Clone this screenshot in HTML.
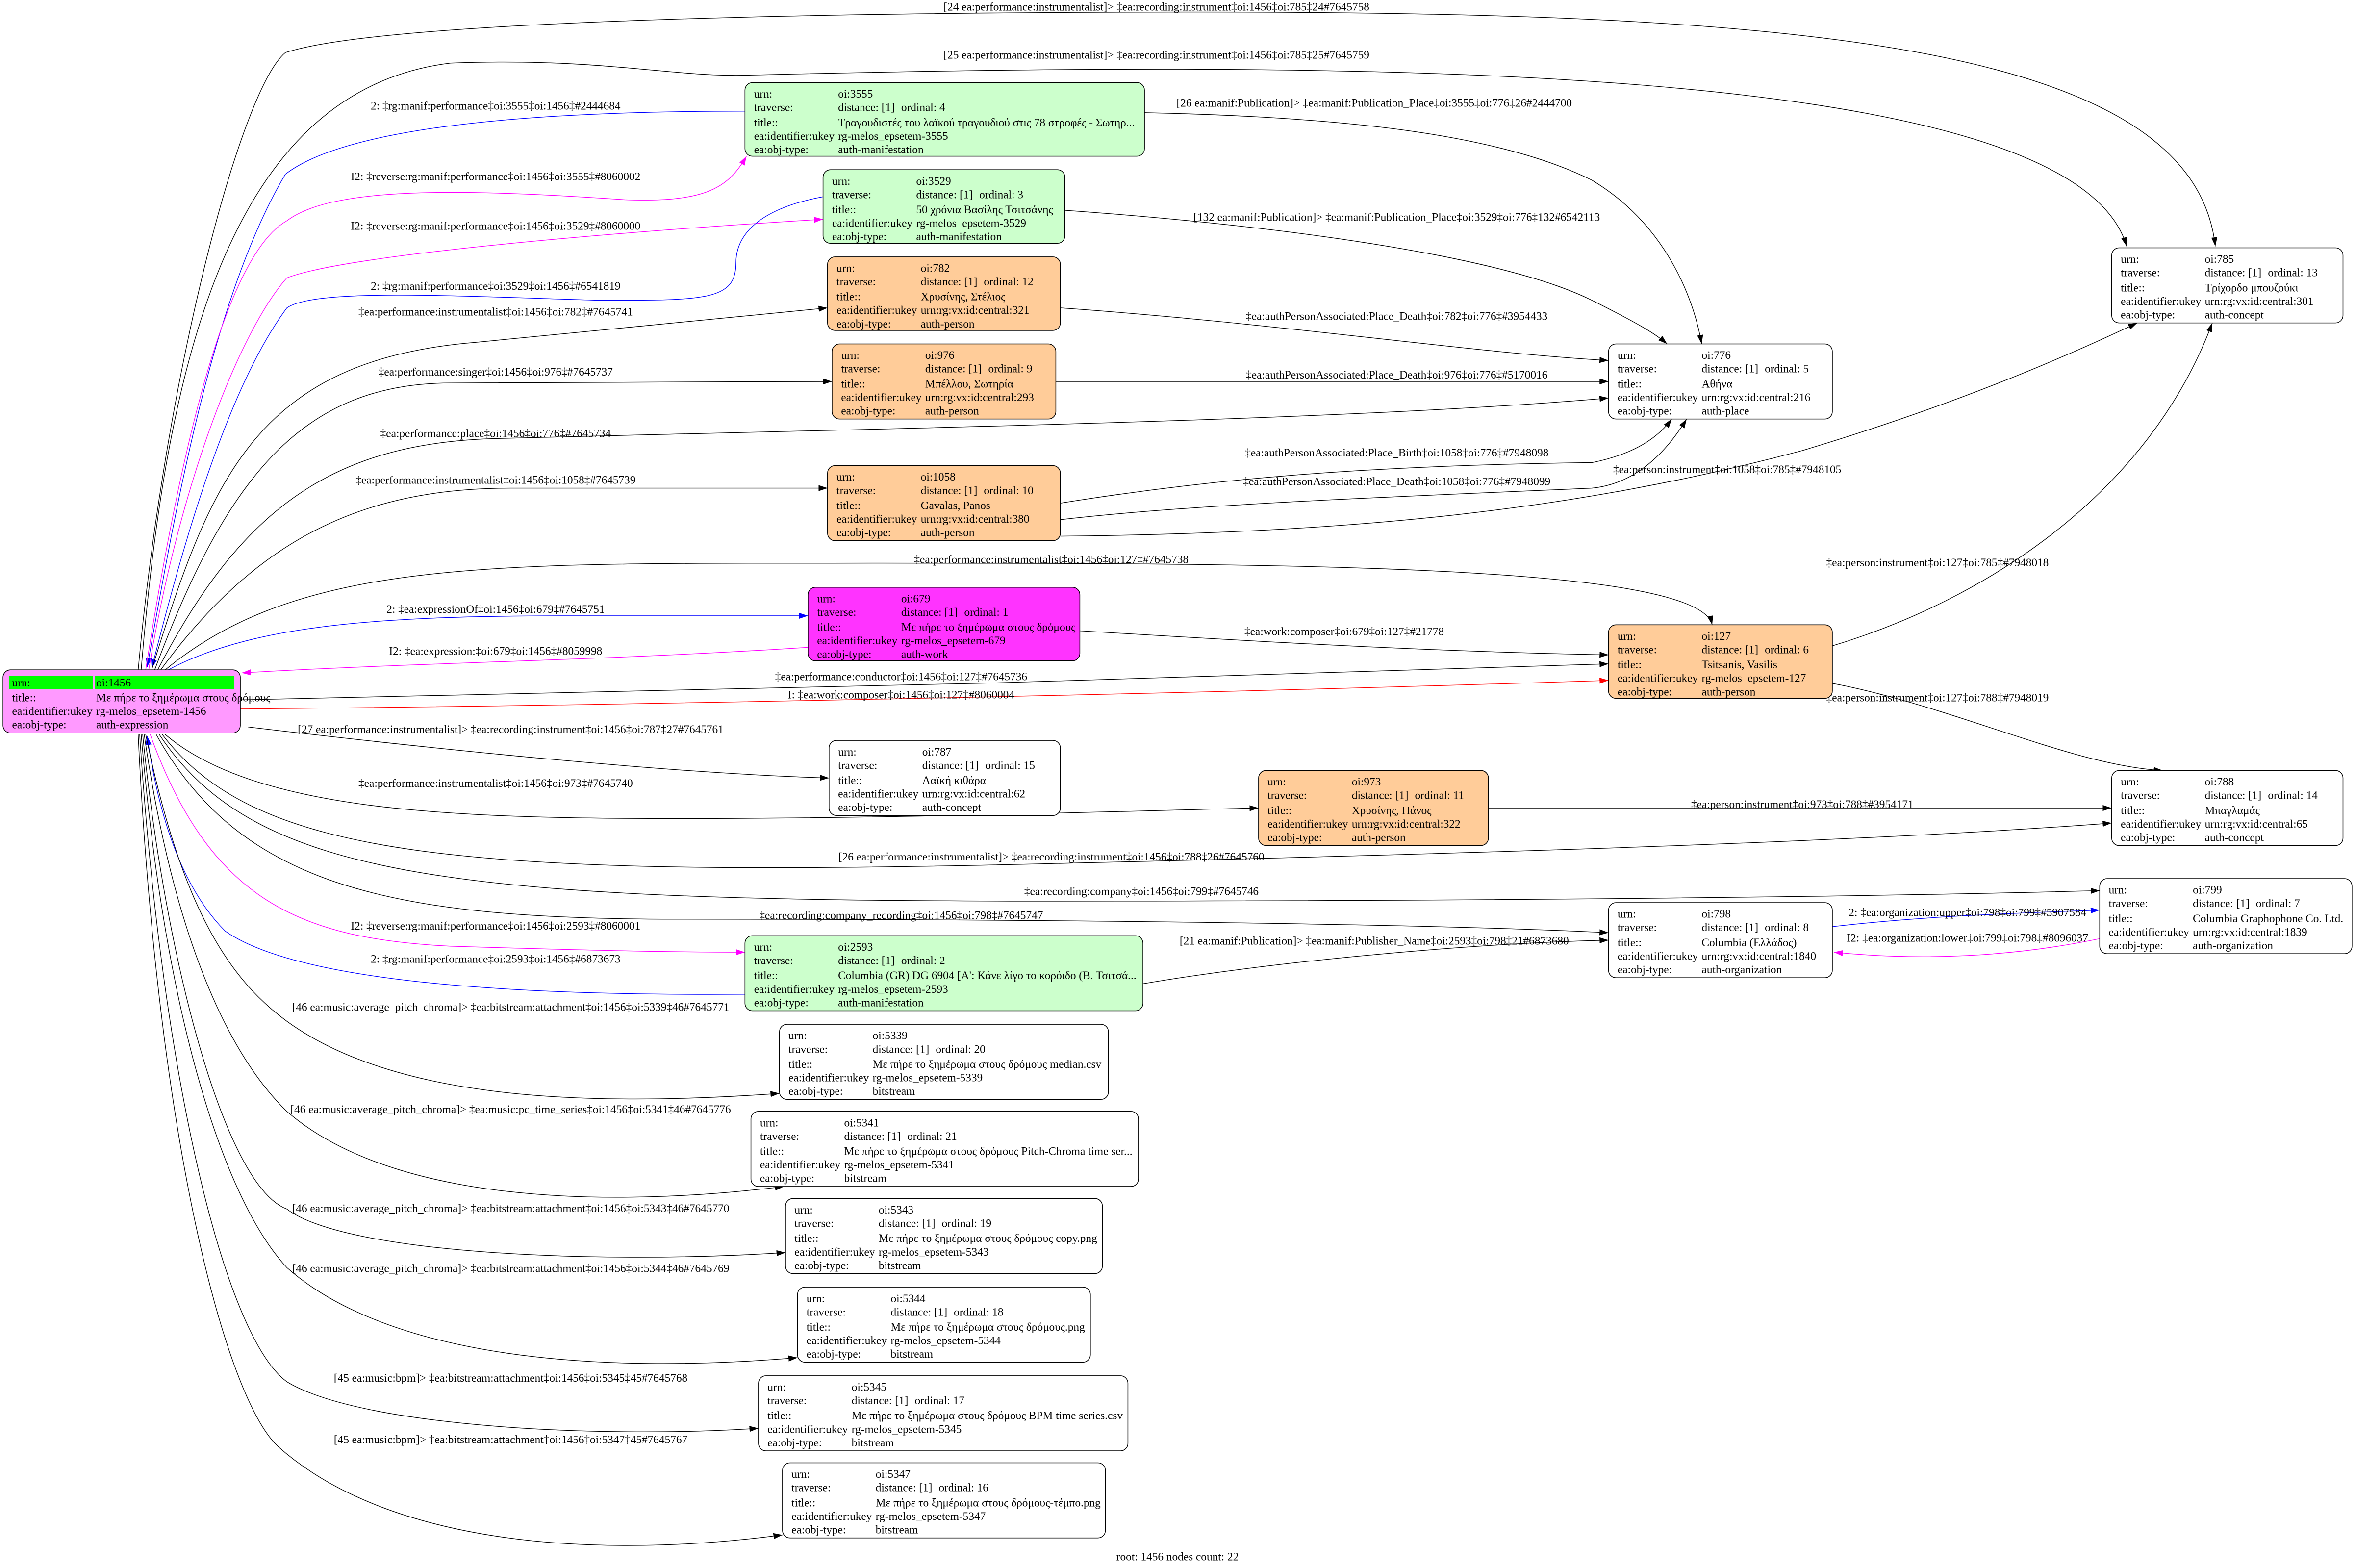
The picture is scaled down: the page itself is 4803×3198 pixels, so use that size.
<!DOCTYPE html>
<html><head><meta charset="utf-8"><style>
html,body{margin:0;padding:0;background:#fff;}
svg{display:block;}
text{font-family:"Liberation Serif","Noto Serif CJK SC",serif;font-size:7.6px;fill:#000;}
.e{fill:none;stroke:#000;stroke-width:0.45;}
.b{stroke:#0000ff;} .m{stroke:#ff00ff;} .r{stroke:#ff0000;}
.l{text-anchor:middle;}
rect{stroke-width:0.5;}
</style></head><body>
<svg width="4803" height="3198" viewBox="0 0 1568 1044" xmlns="http://www.w3.org/2000/svg">
<defs>
<marker id="ak" markerWidth="6" markerHeight="4" refX="6" refY="2" orient="auto" markerUnits="userSpaceOnUse"><path d="M0,0L6,2L0,4z" fill="#000"/></marker>
<marker id="ab" markerWidth="6" markerHeight="4" refX="6" refY="2" orient="auto" markerUnits="userSpaceOnUse"><path d="M0,0L6,2L0,4z" fill="#00f"/></marker>
<marker id="am" markerWidth="6" markerHeight="4" refX="6" refY="2" orient="auto" markerUnits="userSpaceOnUse"><path d="M0,0L6,2L0,4z" fill="#f0f"/></marker>
<marker id="ar" markerWidth="6" markerHeight="4" refX="6" refY="2" orient="auto" markerUnits="userSpaceOnUse"><path d="M0,0L6,2L0,4z" fill="#f00"/></marker>
</defs>
<rect width="1568" height="1044" fill="#fff" stroke="none"/>

<!-- edges from root top -->
<path class="e" marker-end="url(#ak)" d="M92,446 C110,250 160,60 190,35 C260,12 600,8 800,8 C1200,8 1460,30 1475,164"/>
<path class="e" marker-end="url(#ak)" d="M94,446 C110,250 150,60 300,42 C400,38 450,52 500,50 C900,40 1380,40 1416,164"/>
<path class="e b" marker-end="url(#ab)" d="M496,74 C350,74 230,85 190,116 C140,200 115,350 98,444"/>
<path class="e m" marker-end="url(#am)" d="M97,446 C120,300 150,170 191,147 C220,125 300,125 416,133 C470,135 485,125 497,104"/>
<path class="e m" marker-end="url(#am)" d="M99,446 C120,320 160,220 191,185 C230,170 400,155 548,146"/>
<path class="e b" marker-end="url(#ab)" d="M548,131 C500,140 490,160 490,175 C490,200 470,200 400,200 C300,197 210,192 191,205 C150,260 120,370 101,445"/>
<path class="e" marker-end="url(#ak)" d="M101,446 C140,320 170,240 316,228 C400,220 480,212 551,205"/>
<path class="e" marker-end="url(#ak)" d="M103,446 C150,320 200,255 300,255 C420,255 480,254 554,254"/>
<path class="e" marker-end="url(#ak)" d="M105,446 C160,340 220,295 330,292 C600,285 900,280 1071,265"/>
<path class="e" marker-end="url(#ak)" d="M107,446 C170,360 240,325 340,325 C450,325 500,325 551,325"/>
<path class="e" marker-end="url(#ak)" d="M110,446 C190,380 300,375 500,375 C800,375 1130,372 1140,416"/>
<path class="e b" marker-end="url(#ab)" d="M112,446 C170,415 260,410 380,410 C460,410 500,410 538,410"/>
<path class="e m" marker-end="url(#am)" d="M538,431 C400,440 280,441 161,448"/>
<path class="e" marker-end="url(#ak)" d="M160,466 C400,462 800,452 1071,442"/>
<path class="e r" marker-end="url(#ar)" d="M160,472 C400,470 800,462 1071,453"/>
<!-- edges from root bottom -->
<path class="e" marker-end="url(#ak)" d="M165,484 C300,500 450,515 552,518"/>
<path class="e" marker-end="url(#ak)" d="M110,489 C170,540 300,545 450,545 C600,545 750,540 838,538"/>
<path class="e" marker-end="url(#ak)" d="M108,489 C170,570 300,585 700,575 C1000,568 1250,560 1406,548"/>
<path class="e" marker-end="url(#ak)" d="M106,489 C170,585 300,600 700,600 C1000,600 1250,597 1398,593"/>
<path class="e" marker-end="url(#ak)" d="M104,489 C160,590 260,612 450,612 C700,612 950,615 1071,621"/>
<path class="e m" marker-end="url(#am)" d="M100,489 C140,600 200,625 300,630 C400,633 450,634 496,634"/>
<path class="e b" marker-end="url(#ab)" d="M496,662 C350,663 200,655 150,620 C120,590 105,540 98,490"/>
<path class="e" marker-end="url(#ak)" d="M97,489 C120,600 150,650 191,680 C260,730 380,738 519,728"/>
<path class="e" marker-end="url(#ak)" d="M96,489 C115,620 150,700 191,740 C260,800 400,805 522,790"/>
<path class="e" marker-end="url(#ak)" d="M95,489 C110,640 150,790 191,805 C230,835 400,842 523,834"/>
<path class="e" marker-end="url(#ak)" d="M94,489 C110,680 150,800 191,844 C260,905 400,915 531,904"/>
<path class="e" marker-end="url(#ak)" d="M93,489 C108,720 150,890 191,920 C240,950 400,958 505,951"/>
<path class="e" marker-end="url(#ak)" d="M92,489 C105,760 150,930 185,963 C260,1030 400,1038 521,1022"/>
<!-- other edges -->
<path class="e" marker-end="url(#ak)" d="M762,75 C900,78 1000,90 1060,120 C1110,150 1128,200 1133,229"/>
<path class="e" marker-end="url(#ak)" d="M709,140 C850,150 1000,170 1060,200 C1090,215 1102,222 1110,229"/>
<path class="e" marker-end="url(#ak)" d="M706,205 C850,215 980,235 1071,240"/>
<path class="e" marker-end="url(#ak)" d="M703,254 C850,254 980,254 1071,254"/>
<path class="e" marker-end="url(#ak)" d="M706,335 C800,320 900,310 1060,308 C1090,302 1105,290 1113,279"/>
<path class="e" marker-end="url(#ak)" d="M706,346 C800,335 950,330 1060,325 C1090,322 1110,300 1123,279"/>
<path class="e" marker-end="url(#ak)" d="M706,357 C900,355 1050,340 1200,300 C1300,270 1370,240 1423,215"/>
<path class="e" marker-end="url(#ak)" d="M719,420 C850,428 960,434 1071,436"/>
<path class="e" marker-end="url(#ak)" d="M1220,430 C1320,400 1430,330 1473,215"/>
<path class="e" marker-end="url(#ak)" d="M1220,455 C1300,470 1380,510 1440,513"/>
<path class="e" marker-end="url(#ak)" d="M991,538 C1150,538 1300,538 1406,538"/>
<path class="e" marker-end="url(#ak)" d="M761,655 C850,640 980,628 1071,626"/>
<path class="e b" marker-end="url(#ab)" d="M1220,617 C1280,610 1340,608 1398,606"/>
<path class="e m" marker-end="url(#am)" d="M1398,625 C1340,637 1280,640 1221,634"/>

<!-- edge labels -->
<g>
<text class="l" x="770" y="7">[24 ea:performance:instrumentalist]&gt; ‡ea:recording:instrument‡oi:1456‡oi:785‡24#7645758</text>
<text class="l" x="770" y="39">[25 ea:performance:instrumentalist]&gt; ‡ea:recording:instrument‡oi:1456‡oi:785‡25#7645759</text>
<text class="l" x="330" y="73">2: ‡rg:manif:performance‡oi:3555‡oi:1456‡#2444684</text>
<text class="l" x="330" y="120">I2: ‡reverse:rg:manif:performance‡oi:1456‡oi:3555‡#8060002</text>
<text class="l" x="330" y="153">I2: ‡reverse:rg:manif:performance‡oi:1456‡oi:3529‡#8060000</text>
<text class="l" x="330" y="193">2: ‡rg:manif:performance‡oi:3529‡oi:1456‡#6541819</text>
<text class="l" x="330" y="210">‡ea:performance:instrumentalist‡oi:1456‡oi:782‡#7645741</text>
<text class="l" x="330" y="250">‡ea:performance:singer‡oi:1456‡oi:976‡#7645737</text>
<text class="l" x="330" y="291">‡ea:performance:place‡oi:1456‡oi:776‡#7645734</text>
<text class="l" x="330" y="322">‡ea:performance:instrumentalist‡oi:1456‡oi:1058‡#7645739</text>
<text class="l" x="700" y="375">‡ea:performance:instrumentalist‡oi:1456‡oi:127‡#7645738</text>
<text class="l" x="330" y="408">2: ‡ea:expressionOf‡oi:1456‡oi:679‡#7645751</text>
<text class="l" x="330" y="436">I2: ‡ea:expression:‡oi:679‡oi:1456‡#8059998</text>
<text class="l" x="600" y="453">‡ea:performance:conductor‡oi:1456‡oi:127‡#7645736</text>
<text class="l" x="600" y="465">I: ‡ea:work:composer‡oi:1456‡oi:127‡#8060004</text>
<text class="l" x="340" y="488">[27 ea:performance:instrumentalist]&gt; ‡ea:recording:instrument‡oi:1456‡oi:787‡27#7645761</text>
<text class="l" x="330" y="524">‡ea:performance:instrumentalist‡oi:1456‡oi:973‡#7645740</text>
<text class="l" x="700" y="573">[26 ea:performance:instrumentalist]&gt; ‡ea:recording:instrument‡oi:1456‡oi:788‡26#7645760</text>
<text class="l" x="760" y="596">‡ea:recording:company‡oi:1456‡oi:799‡#7645746</text>
<text class="l" x="600" y="612">‡ea:recording:company_recording‡oi:1456‡oi:798‡#7645747</text>
<text class="l" x="330" y="619">I2: ‡reverse:rg:manif:performance‡oi:1456‡oi:2593‡#8060001</text>
<text class="l" x="330" y="641">2: ‡rg:manif:performance‡oi:2593‡oi:1456‡#6873673</text>
<text class="l" x="340" y="673">[46 ea:music:average_pitch_chroma]&gt; ‡ea:bitstream:attachment‡oi:1456‡oi:5339‡46#7645771</text>
<text class="l" x="340" y="741">[46 ea:music:average_pitch_chroma]&gt; ‡ea:music:pc_time_series‡oi:1456‡oi:5341‡46#7645776</text>
<text class="l" x="340" y="807">[46 ea:music:average_pitch_chroma]&gt; ‡ea:bitstream:attachment‡oi:1456‡oi:5343‡46#7645770</text>
<text class="l" x="340" y="847">[46 ea:music:average_pitch_chroma]&gt; ‡ea:bitstream:attachment‡oi:1456‡oi:5344‡46#7645769</text>
<text class="l" x="340" y="920">[45 ea:music:bpm]&gt; ‡ea:bitstream:attachment‡oi:1456‡oi:5345‡45#7645768</text>
<text class="l" x="340" y="961">[45 ea:music:bpm]&gt; ‡ea:bitstream:attachment‡oi:1456‡oi:5347‡45#7645767</text>
<text class="l" x="915" y="71">[26 ea:manif:Publication]&gt; ‡ea:manif:Publication_Place‡oi:3555‡oi:776‡26#2444700</text>
<text class="l" x="930" y="147">[132 ea:manif:Publication]&gt; ‡ea:manif:Publication_Place‡oi:3529‡oi:776‡132#6542113</text>
<text class="l" x="930" y="213">‡ea:authPersonAssociated:Place_Death‡oi:782‡oi:776‡#3954433</text>
<text class="l" x="930" y="252">‡ea:authPersonAssociated:Place_Death‡oi:976‡oi:776‡#5170016</text>
<text class="l" x="930" y="304">‡ea:authPersonAssociated:Place_Birth‡oi:1058‡oi:776‡#7948098</text>
<text class="l" x="930" y="323">‡ea:authPersonAssociated:Place_Death‡oi:1058‡oi:776‡#7948099</text>
<text class="l" x="1150" y="315">‡ea:person:instrument‡oi:1058‡oi:785‡#7948105</text>
<text class="l" x="895" y="423">‡ea:work:composer‡oi:679‡oi:127‡#21778</text>
<text class="l" x="1290" y="377">‡ea:person:instrument‡oi:127‡oi:785‡#7948018</text>
<text class="l" x="1290" y="467">‡ea:person:instrument‡oi:127‡oi:788‡#7948019</text>
<text class="l" x="1200" y="538">‡ea:person:instrument‡oi:973‡oi:788‡#3954171</text>
<text class="l" x="915" y="629">[21 ea:manif:Publication]&gt; ‡ea:manif:Publisher_Name‡oi:2593‡oi:798‡21#6873680</text>
<text class="l" x="1310" y="610">2: ‡ea:organization:upper‡oi:798‡oi:799‡#5907584</text>
<text class="l" x="1310" y="627">I2: ‡ea:organization:lower‡oi:799‡oi:798‡#8096037</text>
</g>

<!-- nodes -->
<g>
<rect x="2" y="446" width="158" height="42" rx="5" fill="#ff99ff" stroke="#000"/>
<rect x="6" y="450" width="56" height="9" fill="#00ff00"/><rect x="63" y="450" width="93" height="9" fill="#00ff00"/>
<text x="8" y="457">urn:</text><text x="64" y="457">oi:1456</text>
<text x="8" y="467">title::</text><text x="64" y="467">Με πήρε το ξημέρωμα στους δρόμους</text>
<text x="8" y="476">ea:identifier:ukey</text><text x="64" y="476">rg-melos_epsetem-1456</text>
<text x="8" y="485">ea:obj-type:</text><text x="64" y="485">auth-expression</text>
</g>

<g><rect x="496" y="55" width="266" height="49" rx="5" fill="#ccffcc" stroke="#000"/>
<text x="502" y="65">urn:</text><text x="558" y="65">oi:3555</text>
<text x="502" y="74">traverse:</text><text x="558" y="74">distance: [1]</text><text x="600" y="74">ordinal: 4</text>
<text x="502" y="84">title::</text><text x="558" y="84">Τραγουδιστές του λαϊκού τραγουδιού στις 78 στροφές - Σωτηρ...</text>
<text x="502" y="93">ea:identifier:ukey</text><text x="558" y="93">rg-melos_epsetem-3555</text>
<text x="502" y="102">ea:obj-type:</text><text x="558" y="102">auth-manifestation</text></g>

<g><rect x="548" y="113" width="161" height="49" rx="5" fill="#ccffcc" stroke="#000"/>
<text x="554" y="123">urn:</text><text x="610" y="123">oi:3529</text>
<text x="554" y="132">traverse:</text><text x="610" y="132">distance: [1]</text><text x="652" y="132">ordinal: 3</text>
<text x="554" y="142">title::</text><text x="610" y="142">50 χρόνια Βασίλης Τσιτσάνης</text>
<text x="554" y="151">ea:identifier:ukey</text><text x="610" y="151">rg-melos_epsetem-3529</text>
<text x="554" y="160">ea:obj-type:</text><text x="610" y="160">auth-manifestation</text></g>

<g><rect x="551" y="171" width="155" height="49" rx="5" fill="#ffcc99" stroke="#000"/>
<text x="557" y="181">urn:</text><text x="613" y="181">oi:782</text>
<text x="557" y="190">traverse:</text><text x="613" y="190">distance: [1]</text><text x="655" y="190">ordinal: 12</text>
<text x="557" y="200">title::</text><text x="613" y="200">Χρυσίνης, Στέλιος</text>
<text x="557" y="209">ea:identifier:ukey</text><text x="613" y="209">urn:rg:vx:id:central:321</text>
<text x="557" y="218">ea:obj-type:</text><text x="613" y="218">auth-person</text></g>

<g><rect x="554" y="229" width="149" height="50" rx="5" fill="#ffcc99" stroke="#000"/>
<text x="560" y="239">urn:</text><text x="616" y="239">oi:976</text>
<text x="560" y="248">traverse:</text><text x="616" y="248">distance: [1]</text><text x="658" y="248">ordinal: 9</text>
<text x="560" y="258">title::</text><text x="616" y="258">Μπέλλου, Σωτηρία</text>
<text x="560" y="267">ea:identifier:ukey</text><text x="616" y="267">urn:rg:vx:id:central:293</text>
<text x="560" y="276">ea:obj-type:</text><text x="616" y="276">auth-person</text></g>

<g><rect x="551" y="310" width="155" height="50" rx="5" fill="#ffcc99" stroke="#000"/>
<text x="557" y="320">urn:</text><text x="613" y="320">oi:1058</text>
<text x="557" y="329">traverse:</text><text x="613" y="329">distance: [1]</text><text x="655" y="329">ordinal: 10</text>
<text x="557" y="339">title::</text><text x="613" y="339">Gavalas, Panos</text>
<text x="557" y="348">ea:identifier:ukey</text><text x="613" y="348">urn:rg:vx:id:central:380</text>
<text x="557" y="357">ea:obj-type:</text><text x="613" y="357">auth-person</text></g>

<g><rect x="538" y="391" width="181" height="49" rx="5" fill="#ff33ff" stroke="#000"/>
<text x="544" y="401">urn:</text><text x="600" y="401">oi:679</text>
<text x="544" y="410">traverse:</text><text x="600" y="410">distance: [1]</text><text x="642" y="410">ordinal: 1</text>
<text x="544" y="420">title::</text><text x="600" y="420">Με πήρε το ξημέρωμα στους δρόμους</text>
<text x="544" y="429">ea:identifier:ukey</text><text x="600" y="429">rg-melos_epsetem-679</text>
<text x="544" y="438">ea:obj-type:</text><text x="600" y="438">auth-work</text></g>

<g><rect x="1071" y="416" width="149" height="49" rx="5" fill="#ffcc99" stroke="#000"/>
<text x="1077" y="426">urn:</text><text x="1133" y="426">oi:127</text>
<text x="1077" y="435">traverse:</text><text x="1133" y="435">distance: [1]</text><text x="1175" y="435">ordinal: 6</text>
<text x="1077" y="445">title::</text><text x="1133" y="445">Tsitsanis, Vasilis</text>
<text x="1077" y="454">ea:identifier:ukey</text><text x="1133" y="454">rg-melos_epsetem-127</text>
<text x="1077" y="463">ea:obj-type:</text><text x="1133" y="463">auth-person</text></g>

<g><rect x="1071" y="229" width="149" height="50" rx="5" fill="#fff" stroke="#000"/>
<text x="1077" y="239">urn:</text><text x="1133" y="239">oi:776</text>
<text x="1077" y="248">traverse:</text><text x="1133" y="248">distance: [1]</text><text x="1175" y="248">ordinal: 5</text>
<text x="1077" y="258">title::</text><text x="1133" y="258">Αθήνα</text>
<text x="1077" y="267">ea:identifier:ukey</text><text x="1133" y="267">urn:rg:vx:id:central:216</text>
<text x="1077" y="276">ea:obj-type:</text><text x="1133" y="276">auth-place</text></g>

<g><rect x="1406" y="165" width="154" height="50" rx="5" fill="#fff" stroke="#000"/>
<text x="1412" y="175">urn:</text><text x="1468" y="175">oi:785</text>
<text x="1412" y="184">traverse:</text><text x="1468" y="184">distance: [1]</text><text x="1510" y="184">ordinal: 13</text>
<text x="1412" y="194">title::</text><text x="1468" y="194">Τρίχορδο μπουζούκι</text>
<text x="1412" y="203">ea:identifier:ukey</text><text x="1468" y="203">urn:rg:vx:id:central:301</text>
<text x="1412" y="212">ea:obj-type:</text><text x="1468" y="212">auth-concept</text></g>

<g><rect x="552" y="493" width="154" height="50" rx="5" fill="#fff" stroke="#000"/>
<text x="558" y="503">urn:</text><text x="614" y="503">oi:787</text>
<text x="558" y="512">traverse:</text><text x="614" y="512">distance: [1]</text><text x="656" y="512">ordinal: 15</text>
<text x="558" y="522">title::</text><text x="614" y="522">Λαϊκή κιθάρα</text>
<text x="558" y="531">ea:identifier:ukey</text><text x="614" y="531">urn:rg:vx:id:central:62</text>
<text x="558" y="540">ea:obj-type:</text><text x="614" y="540">auth-concept</text></g>

<g><rect x="838" y="513" width="153" height="50" rx="5" fill="#ffcc99" stroke="#000"/>
<text x="844" y="523">urn:</text><text x="900" y="523">oi:973</text>
<text x="844" y="532">traverse:</text><text x="900" y="532">distance: [1]</text><text x="942" y="532">ordinal: 11</text>
<text x="844" y="542">title::</text><text x="900" y="542">Χρυσίνης, Πάνος</text>
<text x="844" y="551">ea:identifier:ukey</text><text x="900" y="551">urn:rg:vx:id:central:322</text>
<text x="844" y="560">ea:obj-type:</text><text x="900" y="560">auth-person</text></g>

<g><rect x="1406" y="513" width="154" height="50" rx="5" fill="#fff" stroke="#000"/>
<text x="1412" y="523">urn:</text><text x="1468" y="523">oi:788</text>
<text x="1412" y="532">traverse:</text><text x="1468" y="532">distance: [1]</text><text x="1510" y="532">ordinal: 14</text>
<text x="1412" y="542">title::</text><text x="1468" y="542">Μπαγλαμάς</text>
<text x="1412" y="551">ea:identifier:ukey</text><text x="1468" y="551">urn:rg:vx:id:central:65</text>
<text x="1412" y="560">ea:obj-type:</text><text x="1468" y="560">auth-concept</text></g>

<g><rect x="1398" y="585" width="168" height="50" rx="5" fill="#fff" stroke="#000"/>
<text x="1404" y="595">urn:</text><text x="1460" y="595">oi:799</text>
<text x="1404" y="604">traverse:</text><text x="1460" y="604">distance: [1]</text><text x="1502" y="604">ordinal: 7</text>
<text x="1404" y="614">title::</text><text x="1460" y="614">Columbia Graphophone Co. Ltd.</text>
<text x="1404" y="623">ea:identifier:ukey</text><text x="1460" y="623">urn:rg:vx:id:central:1839</text>
<text x="1404" y="632">ea:obj-type:</text><text x="1460" y="632">auth-organization</text></g>

<g><rect x="1071" y="601" width="149" height="50" rx="5" fill="#fff" stroke="#000"/>
<text x="1077" y="611">urn:</text><text x="1133" y="611">oi:798</text>
<text x="1077" y="620">traverse:</text><text x="1133" y="620">distance: [1]</text><text x="1175" y="620">ordinal: 8</text>
<text x="1077" y="630">title::</text><text x="1133" y="630">Columbia (Ελλάδος)</text>
<text x="1077" y="639">ea:identifier:ukey</text><text x="1133" y="639">urn:rg:vx:id:central:1840</text>
<text x="1077" y="648">ea:obj-type:</text><text x="1133" y="648">auth-organization</text></g>

<g><rect x="496" y="623" width="265" height="50" rx="5" fill="#ccffcc" stroke="#000"/>
<text x="502" y="633">urn:</text><text x="558" y="633">oi:2593</text>
<text x="502" y="642">traverse:</text><text x="558" y="642">distance: [1]</text><text x="600" y="642">ordinal: 2</text>
<text x="502" y="652">title::</text><text x="558" y="652">Columbia (GR) DG 6904 [A': Κάνε λίγο το κορόιδο (Β. Τσιτσά...</text>
<text x="502" y="661">ea:identifier:ukey</text><text x="558" y="661">rg-melos_epsetem-2593</text>
<text x="502" y="670">ea:obj-type:</text><text x="558" y="670">auth-manifestation</text></g>

<g><rect x="519" y="682" width="219" height="50" rx="5" fill="#fff" stroke="#000"/>
<text x="525" y="692">urn:</text><text x="581" y="692">oi:5339</text>
<text x="525" y="701">traverse:</text><text x="581" y="701">distance: [1]</text><text x="623" y="701">ordinal: 20</text>
<text x="525" y="711">title::</text><text x="581" y="711">Με πήρε το ξημέρωμα στους δρόμους median.csv</text>
<text x="525" y="720">ea:identifier:ukey</text><text x="581" y="720">rg-melos_epsetem-5339</text>
<text x="525" y="729">ea:obj-type:</text><text x="581" y="729">bitstream</text></g>

<g><rect x="500" y="740" width="258" height="50" rx="5" fill="#fff" stroke="#000"/>
<text x="506" y="750">urn:</text><text x="562" y="750">oi:5341</text>
<text x="506" y="759">traverse:</text><text x="562" y="759">distance: [1]</text><text x="604" y="759">ordinal: 21</text>
<text x="506" y="769">title::</text><text x="562" y="769">Με πήρε το ξημέρωμα στους δρόμους Pitch-Chroma time ser...</text>
<text x="506" y="778">ea:identifier:ukey</text><text x="562" y="778">rg-melos_epsetem-5341</text>
<text x="506" y="787">ea:obj-type:</text><text x="562" y="787">bitstream</text></g>

<g><rect x="523" y="798" width="211" height="50" rx="5" fill="#fff" stroke="#000"/>
<text x="529" y="808">urn:</text><text x="585" y="808">oi:5343</text>
<text x="529" y="817">traverse:</text><text x="585" y="817">distance: [1]</text><text x="627" y="817">ordinal: 19</text>
<text x="529" y="827">title::</text><text x="585" y="827">Με πήρε το ξημέρωμα στους δρόμους copy.png</text>
<text x="529" y="836">ea:identifier:ukey</text><text x="585" y="836">rg-melos_epsetem-5343</text>
<text x="529" y="845">ea:obj-type:</text><text x="585" y="845">bitstream</text></g>

<g><rect x="531" y="857" width="195" height="50" rx="5" fill="#fff" stroke="#000"/>
<text x="537" y="867">urn:</text><text x="593" y="867">oi:5344</text>
<text x="537" y="876">traverse:</text><text x="593" y="876">distance: [1]</text><text x="635" y="876">ordinal: 18</text>
<text x="537" y="886">title::</text><text x="593" y="886">Με πήρε το ξημέρωμα στους δρόμους.png</text>
<text x="537" y="895">ea:identifier:ukey</text><text x="593" y="895">rg-melos_epsetem-5344</text>
<text x="537" y="904">ea:obj-type:</text><text x="593" y="904">bitstream</text></g>

<g><rect x="505" y="916" width="246" height="50" rx="5" fill="#fff" stroke="#000"/>
<text x="511" y="926">urn:</text><text x="567" y="926">oi:5345</text>
<text x="511" y="935">traverse:</text><text x="567" y="935">distance: [1]</text><text x="609" y="935">ordinal: 17</text>
<text x="511" y="945">title::</text><text x="567" y="945">Με πήρε το ξημέρωμα στους δρόμους BPM time series.csv</text>
<text x="511" y="954">ea:identifier:ukey</text><text x="567" y="954">rg-melos_epsetem-5345</text>
<text x="511" y="963">ea:obj-type:</text><text x="567" y="963">bitstream</text></g>

<g><rect x="521" y="974" width="215" height="50" rx="5" fill="#fff" stroke="#000"/>
<text x="527" y="984">urn:</text><text x="583" y="984">oi:5347</text>
<text x="527" y="993">traverse:</text><text x="583" y="993">distance: [1]</text><text x="625" y="993">ordinal: 16</text>
<text x="527" y="1003">title::</text><text x="583" y="1003">Με πήρε το ξημέρωμα στους δρόμους-τέμπο.png</text>
<text x="527" y="1012">ea:identifier:ukey</text><text x="583" y="1012">rg-melos_epsetem-5347</text>
<text x="527" y="1021">ea:obj-type:</text><text x="583" y="1021">bitstream</text></g>

<text class="l" x="784" y="1039">root: 1456 nodes count: 22</text>
</svg>
</body></html>
